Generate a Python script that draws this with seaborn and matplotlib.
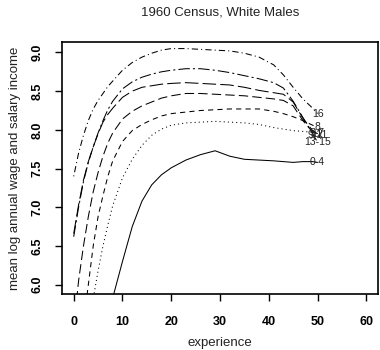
import numpy as np
import pandas as pd
import matplotlib
matplotlib.use("Agg")
import matplotlib.pyplot as plt
import seaborn as sns

# ---- data ----
experience = [0, 1, 2, 3, 4, 5, 6, 7, 8, 10, 12, 14, 16, 18, 20, 23, 26, 29, 32, 35, 38, 41, 43, 45, 47, 49, 50]

inc_0_4 = [3.80, 4.07, 4.35, 4.60, 4.85, 5.10, 5.35, 5.60, 5.83, 6.30, 6.75, 7.08, 7.29, 7.42, 7.51, 7.61, 7.68, 7.73, 7.66, 7.62, 7.61, 7.60, 7.59, 7.58, 7.59, 7.59, 7.58]
inc_5_7 = [4.00, 4.50, 4.95, 5.40, 5.82, 6.18, 6.50, 6.77, 7.02, 7.38, 7.62, 7.80, 7.93, 8.01, 8.06, 8.09, 8.10, 8.11, 8.10, 8.09, 8.07, 8.03, 8.01, 7.99, 7.98, 7.97, 7.96]
inc_8 = [4.30, 4.95, 5.50, 6.00, 6.50, 6.88, 7.15, 7.40, 7.60, 7.85, 7.99, 8.07, 8.13, 8.18, 8.21, 8.23, 8.25, 8.26, 8.27, 8.27, 8.27, 8.24, 8.21, 8.17, 8.12, 8.06, 8.04]
inc_9_11 = [5.45, 6.05, 6.50, 6.88, 7.20, 7.45, 7.66, 7.83, 7.96, 8.14, 8.24, 8.31, 8.36, 8.41, 8.44, 8.47, 8.47, 8.46, 8.45, 8.44, 8.42, 8.40, 8.38, 8.31, 8.12, 7.97, 7.94]
inc_12 = [6.66, 7.03, 7.35, 7.59, 7.78, 7.95, 8.10, 8.20, 8.28, 8.42, 8.50, 8.55, 8.57, 8.59, 8.60, 8.61, 8.60, 8.59, 8.58, 8.55, 8.51, 8.48, 8.46, 8.36, 8.15, 7.99, 7.95]
inc_13_15 = [6.62, 7.00, 7.33, 7.58, 7.78, 7.96, 8.12, 8.26, 8.37, 8.53, 8.62, 8.68, 8.72, 8.75, 8.77, 8.79, 8.79, 8.77, 8.74, 8.70, 8.66, 8.61, 8.54, 8.37, 8.16, 7.95, 7.84]
inc_16 = [7.40, 7.70, 7.93, 8.12, 8.27, 8.38, 8.47, 8.56, 8.63, 8.77, 8.87, 8.94, 8.99, 9.03, 9.05, 9.05, 9.04, 9.03, 9.02, 8.99, 8.94, 8.84, 8.71, 8.55, 8.40, 8.28, 8.21]

schooling = ["0-4", "5-7", "8", "9-11", "12", "13-15", "16"]
series = [inc_0_4, inc_5_7, inc_8, inc_9_11, inc_12, inc_13_15, inc_16]

x_ticks = [0, 10, 20, 30, 40, 50, 60]
y_ticks = [6.0, 6.5, 7.0, 7.5, 8.0, 8.5, 9.0]

# ---- styling ----
sns.set_theme(style="ticks")
plt.rcParams["font.family"] = ["Liberation Sans", "DejaVu Sans"]
plt.rcParams["text.color"] = "black"
plt.rcParams["axes.labelcolor"] = "black"
plt.rcParams["xtick.color"] = "black"
plt.rcParams["ytick.color"] = "black"

frames = [pd.DataFrame({"experience": experience, "income": vals, "school": lab})
          for lab, vals in zip(schooling, series)]
df = pd.concat(frames, ignore_index=True)

dash_map = {
    "0-4": "",
    "5-7": (1, 3),
    "8": (5, 4),
    "9-11": (9, 4),
    "12": (13, 4),
    "13-15": (11, 3, 2, 3),
    "16": (1, 3, 6, 3),
}

fig = plt.figure(figsize=(3.8, 3.5), dpi=100)
ax = fig.add_axes([62 / 380, 1 - 294 / 350, (378 - 62) / 380, (294 - 42) / 350])

sns.lineplot(data=df, x="experience", y="income", style="school",
             style_order=schooling, dashes=dash_map, color="black",
             linewidth=0.75, estimator=None, sort=False, legend=False, ax=ax)

for lab, vals in zip(schooling, series):
    ax.text(experience[-1], vals[-1], lab, ha="center", va="center",
            fontsize=7.5, color="#222222")

ax.set_xlim(-2.4, 62.4)
ax.set_ylim(5.88, 9.135)
ax.set_xticks(x_ticks)
ax.set_xticklabels([str(t) for t in x_ticks], fontweight="bold", fontsize=9)
ax.set_yticks(y_ticks)
ax.set_yticklabels([f"{t:.1f}" for t in y_ticks], fontweight="bold", fontsize=9,
                   rotation=90, va="center")
ax.tick_params(axis="both", direction="out", length=5, width=1, color="black",
               labelcolor="black")
ax.tick_params(axis="x", pad=11)
ax.tick_params(axis="y", pad=8)

for s in ax.spines.values():
    s.set_visible(True)
    s.set_linewidth(1.2)
    s.set_color("black")

ax.set_xlabel("experience", fontsize=9.5, labelpad=6, color="#222222")
ax.set_ylabel("mean log annual wage and salary income", fontsize=9.5, labelpad=8,
              color="#222222")
ax.set_title("1960 Census, White Males", fontsize=9.5, pad=19, color="#222222")
ax.grid(False)

fig.savefig("out.png", dpi=100)
